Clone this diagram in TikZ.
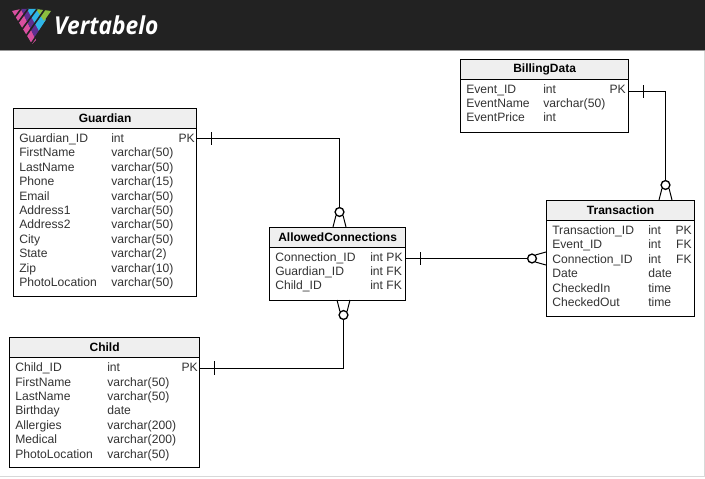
\documentclass[tikz,border=0pt]{standalone}
\usepackage{fontspec}
\setmainfont{Liberation Sans}
\newfontfamily\logofont{Open Sans}
\definecolor{hdr}{HTML}{222222}
\definecolor{tblhead}{HTML}{EFEFEF}
\definecolor{txt}{HTML}{333333}
\definecolor{edge}{HTML}{D8D8D8}
\definecolor{lgreen}{HTML}{8CBF3F}
\definecolor{lcyan}{HTML}{2FB5E8}
\definecolor{lviolet}{HTML}{5F2F91}
\definecolor{lpink}{HTML}{D94FA0}
\tikzset{
  x=0.75pt,y=-0.75pt,
  tbl/.style={draw=black,line width=0.9pt,fill=white,inner sep=0pt,anchor=north west},
  thead/.style={draw=black,line width=0.9pt,fill=tblhead,inner sep=0pt,anchor=north west,text=black,font=\fontsize{9}{10}\selectfont\bfseries,align=center},
  cell/.style={anchor=base west,inner sep=0pt,text=txt,font=\fontsize{9.1}{10}\selectfont},
  cellr/.style={anchor=base east,inner sep=0pt,text=txt,font=\fontsize{9.1}{10}\selectfont},
  conn/.style={draw=black,line width=0.75pt},
  ring/.style={circle,draw=black,fill=white,line width=1pt,minimum size=6.6pt,inner sep=0pt},
  slash/.style={draw=hdr,line width=1.2pt},
}
\newcommand{\tabbox}[6]{%
  \node[tbl,minimum width={(#5-#3)*0.75pt},minimum height={(#6-#4)*0.75pt}] (#1) at (#3,#4) {};
  \node[thead,minimum width={(#5-#3)*0.75pt},minimum height={(20)*0.75pt}] (#1h) at (#3,#4) {#2};
}
\begin{document}
\begin{tikzpicture}
\useasboundingbox (0,0) rectangle (705,478);
\fill[white] (0,0) rectangle (705,478);
\draw[edge,line width=0.75pt] (704.5,51) -- (704.5,476.5) -- (0,476.5);
\fill[hdr] (0,0) rectangle (705,50);
\draw[edge!70!black,line width=0.75pt] (0,50.5) -- (705,50.5);
% logo
\fill[lpink] (12,11) -- (21,9) -- (36,40) -- (32,44) -- cycle;
\fill[lviolet] (21,9) -- (29,9) -- (41,27) -- (35,38) -- cycle;
\fill[lcyan] (27,9) -- (38,9) -- (46,20) -- (39,31) -- cycle;
\fill[lgreen] (36,9) -- (51,11) -- (44,21) -- cycle;
\draw[slash] (21,9) -- (10,24);
\draw[slash] (28,9) -- (14,28);
\draw[slash] (37,9) -- (20,32);
\draw[slash] (45,9) -- (26,36);
\draw[slash] (51,14) -- (31,44);
\node[anchor=base west,inner sep=0pt,text=white,xscale=0.92] (brand) at (54,35) {\logofont\fontsize{18.5}{20}\selectfont\bfseries\itshape Vertabelo};
% tables
\tabbox{guardian}{Guardian}{13}{108}{196}{296}
\tabbox{child}{Child}{9}{337}{199}{467}
\tabbox{allowed}{AllowedConnections}{269}{227}{405}{300}
\tabbox{trans}{Transaction}{546}{200}{694}{316}
\tabbox{billing}{BillingData}{460}{59}{628}{132}
% Guardian rows
\foreach \a/\b/\c/\d in {142/Guardian\_ID/int/gpk,156/FirstName/varchar(50)/g2,171/LastName/varchar(50)/g3,185/Phone/varchar(15)/g4,200/Email/varchar(50)/g5,214/Address1/varchar(50)/g6,228/Address2/varchar(50)/g7,243/City/varchar(50)/g8,257/State/varchar(2)/g9,272/Zip/varchar(10)/g10,286/PhotoLocation/varchar(50)/g11}
 {\node[cell] (\d n) at (19,\a) {\b}; \node[cell] (\d t) at (111,\a) {\c};}
\node[cellr] (gpkk) at (195,142) {PK};
% Child rows
\foreach \a/\b/\c/\d in {371/Child\_ID/int/cpk,386/FirstName/varchar(50)/c2,400/LastName/varchar(50)/c3,414/Birthday/date/c4,429/Allergies/varchar(200)/c5,443/Medical/varchar(200)/c6,458/PhotoLocation/varchar(50)/c7}
 {\node[cell] (\d n) at (15,\a) {\b}; \node[cell] (\d t) at (107,\a) {\c};}
\node[cellr] (cpkk) at (198,371) {PK};
% Allowed rows
\foreach \a/\b/\c/\d in {261/Connection\_ID/int PK/apk,275/Guardian\_ID/int FK/a2,289/Child\_ID/int FK/a3}
 {\node[cell] (\d n) at (275,\a) {\b}; \node[cell] (\d t) at (370,\a) {\c};}
% Transaction rows
\foreach \a/\b/\c/\d in {234/Transaction\_ID/int/t1,248/Event\_ID/int/t2,263/Connection\_ID/int/t3,277/Date/date/t4,292/CheckedIn/time/t5,306/CheckedOut/time/t6}
 {\node[cell] (\d n) at (552,\a) {\b}; \node[cell] (\d t) at (648,\a) {\c};}
\node[cellr] (t1k) at (692,234) {PK};
\node[cellr] (t2k) at (692,248) {FK};
\node[cellr] (t3k) at (692,263) {FK};
% Billing rows
\foreach \a/\b/\c/\d in {93/Event\_ID/int/b1,107/EventName/varchar(50)/b2,121/EventPrice/int/b3}
 {\node[cell] (\d n) at (466,\a) {\b}; \node[cell] (\d t) at (543,\a) {\c};}
\node[cellr] (b1k) at (626,93) {PK};
% ring nodes
\node[ring] (r1) at (339.5,212) {};
\node[ring] (r2) at (343.5,315) {};
\node[ring] (r3) at (532,258.5) {};
\node[ring] (r4) at (665.5,185) {};
% connectors
\coordinate (gout) at (196,138.5);
\coordinate (cout) at (199,368.5);
\coordinate (aout) at (405,258.5);
\coordinate (bout) at (628,91.5);
\draw[conn] (gout) -| (r1.north);
\draw[conn] (cout) -| (r2.south);
\draw[conn] (aout) -- (r3.west);
\draw[conn] (bout) -| (r4.north);
% one-bars
\draw[conn] (211.5,132) -- (211.5,145);
\draw[conn] (214.5,361) -- (214.5,375);
\draw[conn] (420.5,252) -- (420.5,265);
\draw[conn] (643.5,85) -- (643.5,98);
% crow feet
\draw[conn] (r1.south west) -- (333,227) (r1.south east) -- (346,227);
\draw[conn] (r2.north west) -- (337,300) (r2.north east) -- (350,300);
\draw[conn] (r3.north east) -- (546,252) (r3.south east) -- (546,265);
\draw[conn] (r4.south west) -- (659,200) (r4.south east) -- (672,200);
\end{tikzpicture}
\end{document}
